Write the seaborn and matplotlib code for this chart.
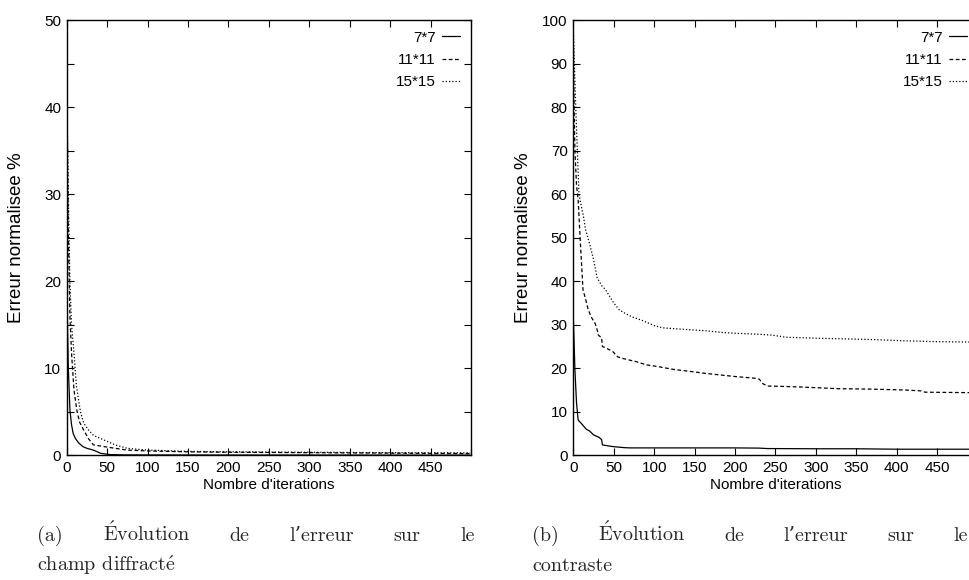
import matplotlib
matplotlib.use("Agg")
import matplotlib.pyplot as plt
from matplotlib.ticker import MultipleLocator
import seaborn as sns
import pandas as pd

# ---------------- data ----------------
series_names = ["7*7", "11*11", "15*15"]

# (a) champ diffracte
x7_a = [0, 1, 2, 4, 6, 8, 11, 15, 20, 25, 33, 42, 54, 70, 100, 200, 300, 400, 499]
y7_a = [25, 15, 10, 5.2, 3.5, 2.5, 1.9, 1.4, 1.0, 0.8, 0.6, 0.23, 0.08, 0.05, 0.04, 0.03, 0.03, 0.02, 0.02]
x11_a = [0, 1, 2, 4, 6, 9, 12.5, 16, 21, 27, 33, 46, 60, 75, 100, 150, 200, 300, 400, 499]
y11_a = [44, 35, 25.5, 16, 11.7, 7.5, 5.2, 3.8, 2.9, 1.9, 1.2, 1.0, 0.8, 0.6, 0.5, 0.4, 0.35, 0.3, 0.25, 0.2]
x15_a = [0, 1, 2, 4, 6, 9, 12, 14.6, 17, 21, 27, 33, 40, 50, 60, 75, 100, 150, 200, 300, 400, 499]
y15_a = [43, 36, 30, 19.8, 15, 11.7, 8, 6.4, 5.0, 3.7, 2.9, 2.3, 2.0, 1.6, 1.2, 0.8, 0.6, 0.45, 0.4, 0.35, 0.3, 0.28]

# (b) contraste
x7_b = [0, 2, 4, 6, 10, 16, 20, 25, 32, 35, 36, 42, 49, 55, 63, 70, 100, 150, 200, 230, 240, 300, 350, 400, 450, 499]
y7_b = [32, 19.6, 12, 8.1, 7.3, 6, 5.6, 4.7, 4.1, 3.6, 2.4, 2.2, 2.0, 1.9, 1.76, 1.7, 1.7, 1.7, 1.7, 1.65, 1.55, 1.5, 1.5, 1.4, 1.4, 1.4]
x11_b = [0, 1, 2, 4, 6, 9, 12, 15, 18.5, 23, 27, 30, 31, 35, 36, 42, 49, 55, 60, 78, 90, 107, 125, 148, 164,
         200, 225, 230, 234, 240, 246, 280, 328, 370, 410, 430, 435, 487, 499]
y11_b = [96, 80, 70, 62, 58.6, 48, 38, 36, 33.4, 31.5, 30.3, 28.5, 27.6, 27, 25, 24.5, 23.8, 22.6, 22.3, 21.5,
         20.8, 20.3, 19.7, 19.2, 18.8, 18.1, 17.7, 17.5, 16.5, 15.9, 15.9, 15.7, 15.3, 15.2, 15.0, 14.8, 14.5, 14.4, 14.4]
x15_b = [0, 1, 3, 5, 7, 9, 12, 15, 20, 25, 29.5, 35, 40, 45, 50, 57, 65, 74, 85, 100, 110, 123, 140, 164, 185,
         205, 230, 246, 260, 266, 300, 369, 410, 450, 499]
y15_b = [98, 92, 80, 70, 60, 58, 55.5, 52, 48.7, 45, 40.8, 39, 38, 36.5, 35, 33.4, 32.5, 31.7, 31, 29.8, 29.3,
         29.1, 28.9, 28.6, 28.2, 28, 27.8, 27.6, 27.2, 27.1, 26.9, 26.6, 26.3, 26.1, 26.0]

x_tick_values = [0, 50, 100, 150, 200, 250, 300, 350, 400, 450, 500]
x_tick_labels = ["0", "50", "100", "150", "200", "250", "300", "350", "400", "450", ""]
y_ticks_a = [0, 10, 20, 30, 40, 50]
y_ticks_b = [0, 10, 20, 30, 40, 50, 60, 70, 80, 90, 100]

xlabel = "Nombre d'iterations"
ylabel = "Erreur normalisee %"
caption_a_line1 = ["(a)", r"$\mathrm{\acute{E}}$volution", "de", "l’erreur", "sur", "le"]
caption_a_line2 = r"champ diffract$\mathrm{\acute{e}}$"
caption_b_line1 = ["(b)", r"$\mathrm{\acute{E}}$volution", "de", "l’erreur", "sur", "le"]
caption_b_line2 = "contraste"

# ---------------- style ----------------
sns.set_theme(style="ticks")
sans = ["Liberation Sans", "DejaVu Sans"]
serif = ["cmr10", "DejaVu Serif"]
plt.rcParams["font.family"] = sans
plt.rcParams["mathtext.fontset"] = "cm"
FS = 11
YFS = 13.5

W, H = 969, 580
fig = plt.figure(figsize=(W / 100, H / 100), dpi=100)
fig.patch.set_facecolor("white")

ax_pos = {
    "a": [66.7 / W, 1 - 455.3 / H, 404.3 / W, 435.3 / H],
    "b": [573.3 / W, 1 - 455.3 / H, 404.3 / W, 435.3 / H],
}

dash_map = {"7*7": "", "11*11": (3, 2), "15*15": (1, 1.6)}


def make_df(xs, ys):
    frames = []
    for name, x, y in zip(series_names, xs, ys):
        frames.append(pd.DataFrame({"iter": x, "err": y, "taille": name}))
    return pd.concat(frames, ignore_index=True)


def draw(ax, df, ymax, yticks, minor):
    sns.lineplot(data=df, x="iter", y="err", style="taille", style_order=series_names,
                 dashes=dash_map, color="black", linewidth=0.9, estimator=None,
                 legend=False, ax=ax)
    ax.set_xlim(0, 500)
    ax.set_ylim(0, ymax)
    ax.set_xticks(x_tick_values)
    ax.set_xticklabels(x_tick_labels)
    ax.set_yticks(yticks)
    ax.set_yticklabels([str(t) for t in yticks])
    if minor:
        ax.yaxis.set_minor_locator(MultipleLocator(5))
    ax.tick_params(which="both", direction="in", top=True, right=True, length=5,
                   width=0.8, color="black", labelsize=FS, pad=4, labelcolor="black")
    for s in ax.spines.values():
        s.set_color("black")
        s.set_linewidth(1.0)
    ax.set_xlabel(xlabel, fontsize=FS, labelpad=2, color="black")
    ax.set_ylabel(ylabel, fontsize=YFS, color="black")
    ax.set_facecolor("white")
    handles = ax.get_lines()[:3]
    leg = ax.legend(handles, series_names, loc="upper right", frameon=False,
                    markerfirst=False, handlelength=1.2, handletextpad=0.4,
                    labelspacing=0.55, borderpad=0.2, borderaxespad=0.5,
                    fontsize=FS)
    for t in leg.get_texts():
        t.set_ha("right")
        t.set_color("black")


axA = fig.add_axes(ax_pos["a"])
draw(axA, make_df([x7_a, x11_a, x15_a], [y7_a, y11_a, y15_a]), 50, y_ticks_a, True)
axA.yaxis.set_label_coords((25 - 66.7) / 404.3, 0.5)

axB = fig.add_axes(ax_pos["b"])
draw(axB, make_df([x7_b, x11_b, x15_b], [y7_b, y11_b, y15_b]), 100, y_ticks_b, False)
axB.yaxis.set_label_coords((532 - 573.3) / 404.3, 0.5)

# ---------------- captions (justified first line) ----------------
CFS = 14.5
base1 = 1 - 541 / H
base2 = 1 - 571 / H
renderer = fig.canvas.get_renderer()


def justified(words, left_px, right_px, y):
    texts = [fig.text(0, y, w, fontsize=CFS, family=serif, ha="left", va="baseline") for w in words]
    widths = [t.get_window_extent(renderer).width for t in texts]
    gap = (right_px - left_px - sum(widths)) / (len(words) - 1)
    x = left_px
    for t, wd in zip(texts, widths):
        t.set_x(x / W)
        x += wd + gap


justified(caption_a_line1, 37, 475, base1)
justified(caption_b_line1, 532, 968, base1)
fig.text(37 / W, base2, caption_a_line2, fontsize=CFS, family=serif, ha="left", va="baseline")
fig.text(532 / W, base2, caption_b_line2, fontsize=CFS, family=serif, ha="left", va="baseline")

fig.savefig("out.png", dpi=100, facecolor="white")
